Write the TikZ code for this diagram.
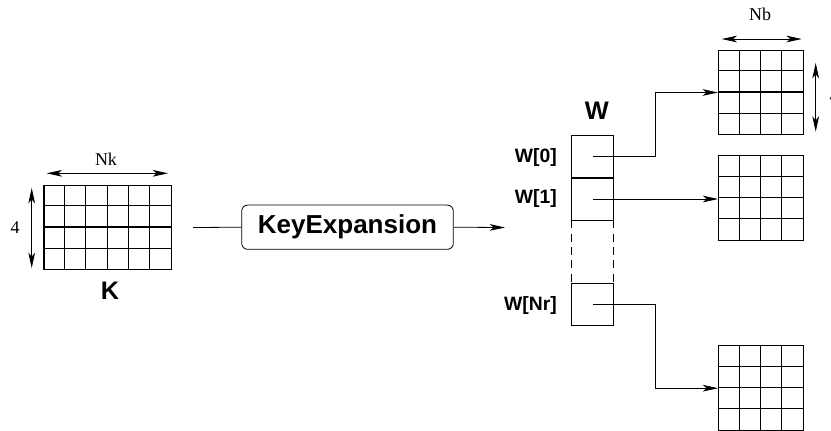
\documentclass[tikz,border=0pt]{standalone}
\usepackage{fontspec}
\setmainfont{Liberation Serif}
\setsansfont{Liberation Sans}
\usetikzlibrary{arrows.meta}

% inner lines of a state matrix: #1 node, #2 columns, #3 rows
\newcommand{\matcells}[3]{%
  \foreach \i in {1,...,#2} \draw[cellline] ([xshift=\i*15.9pt]#1.north west) -- ([xshift=\i*15.9pt]#1.south west);
  \foreach \j in {1,...,#3} \draw[cellline] ([yshift=\j*15.9pt]#1.north west) -- ([yshift=\j*15.9pt]#1.north east);
}

\tikzset{
  matbox/.style={draw, line width=0.8pt, inner sep=0pt, minimum width=63.6pt, minimum height=63.6pt},
  wbox/.style={draw, line width=0.6pt, inner sep=0pt, minimum width=31.3pt, minimum height=31.5pt},
  cellline/.style={line width=0.8pt},
  conn/.style={line width=0.6pt},
  tip/.style={-{Stealth[length=11.5pt,width=5pt,inset=3pt]}},
  dimarrow/.style={line width=0.6pt, {Stealth[length=11.5pt,width=5pt,inset=3pt]}-{Stealth[length=11.5pt,width=5pt,inset=3pt]}},
  dimlabel/.style={inner sep=0pt, font=\fontsize{13.5}{16}\selectfont},
  wlabel/.style={anchor=east, inner sep=0pt, font=\sffamily\bfseries\fontsize{14.5}{17}\selectfont},
  biglabel/.style={inner sep=0pt, font=\sffamily\bfseries\fontsize{19}{22}\selectfont},
  keybox/.style={draw, line width=0.6pt, rounded corners=4.5pt, minimum width=158.7pt, minimum height=33.2pt, font=\sffamily\bfseries\fontsize{19.5}{23}\selectfont},
}

\begin{document}
\begin{tikzpicture}[x=0.75pt,y=0.75pt,yscale=-1,xscale=1]
\useasboundingbox (0,0) rectangle (831,430);
% Cipher key K
\node[matbox, minimum width=95.4pt] (kmat) at (107.6,227.5) {};
\matcells{kmat}{5}{3}
\node[biglabel] (klab) at (110,291) {K};
% Nk and 4
\coordinate (nkl) at (46.7,173.3);
\coordinate (nkr) at (168,173.3);
\draw[dimarrow] (nkl) -- (nkr);
\node[dimlabel] (nk) at (106,159.5) {Nk};
\coordinate (kt) at (31.7,188);
\coordinate (kb) at (31.7,268);
\draw[dimarrow] (kt) -- (kb);
\node[dimlabel] (kfour) at (15,228) {4};
% KeyExpansion
\node[keybox] (kexp) at (347.5,227.2) {KeyExpansion};
\coordinate (kin) at (193,227.5);
\coordinate (wout) at (505,227.5);
\draw[conn] (kin) -- (kexp.west);
\draw[conn,tip] (kexp.east) -- (wout);
% Expanded key W
\node[biglabel] (wlab) at (596.7,111) {W};
\node[wbox] (w0) at (592.5,156.2) {};
\node[wbox, anchor=north] (w1) at (w0.south) {};
\node[wbox] (wnr) at (592.5,304) {};
\draw[conn, dash pattern=on 6pt off 4pt] (w1.south west) -- (wnr.north west);
\draw[conn, dash pattern=on 6pt off 4pt] (w1.south east) -- (wnr.north east);
% Text Node
\node[wlabel] (lw0) at (557,157) {W[0]};
\node[wlabel] (lw1) at (557,198) {W[1]};
\node[wlabel] (lwnr) at (557,305) {W[Nr]};
% Round keys
\node[matbox] (b0) at (760.8,92.5) {};
\matcells{b0}{3}{3}
\node[matbox] (b1) at (761,197.9) {};
\matcells{b1}{3}{3}
\node[matbox] (bnr) at (761,388.2) {};
\matcells{bnr}{3}{3}
% Nb and 4
\coordinate (nbl) at (721.7,39);
\coordinate (nbr) at (801.7,39);
\draw[dimarrow] (nbl) -- (nbr);
\node[dimlabel] (nb) at (760,14) {Nb};
\coordinate (bt) at (815.7,63);
\coordinate (bb) at (815.7,131.7);
\draw[dimarrow] (bt) -- (bb);
\node[dimlabel] (bfour) at (834,97) {4};
% Connectors
\draw[conn,tip] (w0.center) -- ++(63.2,0) |- (b0.west);
\draw[conn,tip] (w1.center) -- (w1.center -| b1.west);
\draw[conn,tip] (wnr.center) -- ++(63.2,0) |- (bnr.west);
\end{tikzpicture}
\end{document}
